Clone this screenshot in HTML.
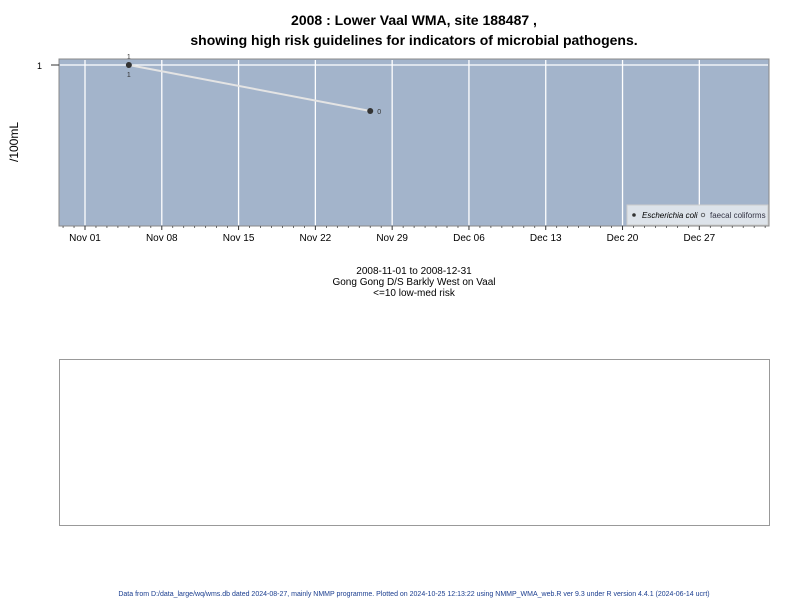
<!DOCTYPE html>
<html><head><meta charset="utf-8"><style>
body{margin:0;background:#fff;font-family:"Liberation Sans",Arial,sans-serif}
svg text{font-family:"Liberation Sans",Arial,sans-serif}
</style></head><body>
<svg id="c" width="800" height="600" xmlns="http://www.w3.org/2000/svg">
<text x="414" y="25" text-anchor="middle" font-size="14" font-weight="bold">2008 : Lower Vaal WMA, site 188487 ,</text>
<text x="414" y="45" text-anchor="middle" font-size="14" font-weight="bold">showing high risk guidelines for indicators of microbial pathogens.</text>
<rect x="59" y="59" width="710" height="167" fill="#a3b4cb" stroke="#888"/>
<g id="grid"></g>
<g id="marks"></g>
<text x="18" y="142" font-size="12" text-anchor="middle" transform="rotate(-90 18 142)">/100mL</text>
<g>
<rect x="627" y="205" width="141" height="20" fill="#dde3ea" stroke="#ccc"/>
<circle cx="634" cy="215" r="1.8" fill="#333"/>
<text x="642" y="218" font-size="8" font-style="italic">Escherichia coli</text>
<circle cx="703" cy="215" r="1.8" fill="none" stroke="#333" stroke-width="0.7"/>
<text x="710" y="218" font-size="8" fill="#334">faecal coliforms</text>
</g>
<text x="414" y="274" text-anchor="middle" font-size="10">2008-11-01 to 2008-12-31</text>
<text x="414" y="285" text-anchor="middle" font-size="10">Gong Gong D/S Barkly West on Vaal</text>
<text x="414" y="296" text-anchor="middle" font-size="10">&lt;=10 low-med risk</text>
<rect x="59.5" y="359.5" width="710" height="166" fill="#fff" stroke="#999"/>
<text x="414" y="596" text-anchor="middle" font-size="7" fill="#1a3d8f">Data from D:/data_large/wq/wms.db dated 2024-08-27, mainly NMMP programme. Plotted on 2024-10-25 12:13:22 using NMMP_WMA_web.R ver 9.3 under R version 4.4.1 (2024-06-14 ucrt)</text>
</svg>
<script>
const tickLabels=["Nov 01","Nov 08","Nov 15","Nov 22","Nov 29","Dec 06","Dec 13","Dec 20","Dec 27"];
const tickDays=[0,7,14,21,28,35,42,49,56];
const sampleDays=[4,26];
const ecoliValues=[1,0];
const valueLabels=["1","0"];
const NS="http://www.w3.org/2000/svg";
const xs=d=>85+10.97*d;
const ys=v=>111-46*v;
function mk(t,a,p){const e=document.createElementNS(NS,t);for(const k in a)e.setAttribute(k,a[k]);p.appendChild(e);return e;}
const g=document.getElementById('grid'),m=document.getElementById('marks');
tickDays.forEach((d,i)=>{
 const l=mk('line',{x1:xs(d),x2:xs(d),y1:60,y2:225,stroke:'#fff','stroke-width':1.3},g);
 
 
 const tk=mk('line',{x1:xs(d),x2:xs(d),y1:226,y2:230,stroke:'#333'},g);
 
 
 const t=mk('text',{x:xs(d),y:241,'text-anchor':'middle','font-size':10},g);
 t.textContent=tickLabels[i];
 
 
});
for(let d=-2;d<=62;d++){if(d%7===0)continue;const x=xs(d);if(x<60||x>768)continue;
 const mt=mk('line',{x1:x,x2:x,y1:226,y2:228,stroke:'#333','stroke-width':0.7},g);
 
 }
const hl=mk('line',{x1:60,x2:768,y1:ys(1),y2:ys(1),stroke:'#fff','stroke-width':1.3},g);


const yt=mk('line',{x1:51,x2:59,y1:ys(1),y2:ys(1),stroke:'#333'},g);


const yl=mk('text',{x:42,y:ys(1)+4,'text-anchor':'end','font-size':9},g);
yl.textContent="1";


const pts=sampleDays.map((d,i)=>xs(d)+','+ys(ecoliValues[i])).join(' ');
const pl=mk('polyline',{points:pts,fill:'none',stroke:'#e4e4e4','stroke-width':2},m);


sampleDays.forEach((d,i)=>{
 const c=mk('circle',{cx:xs(d),cy:ys(ecoliValues[i]),r:3,fill:'#333'},m);
 
 
 if(i===0){
  const a=mk('text',{x:xs(d),y:ys(ecoliValues[i])-6,'text-anchor':'middle','font-size':7,fill:'#333'},m);a.textContent=valueLabels[i];
  
  
  const b=mk('text',{x:xs(d),y:ys(ecoliValues[i])+12,'text-anchor':'middle','font-size':7,fill:'#333'},m);b.textContent=valueLabels[i];
  
  
 }else{
  const a=mk('text',{x:xs(d)+7,y:ys(ecoliValues[i])+3,'font-size':7,fill:'#333'},m);a.textContent=valueLabels[i];
  
  
 }
});
</script>
</body></html>
